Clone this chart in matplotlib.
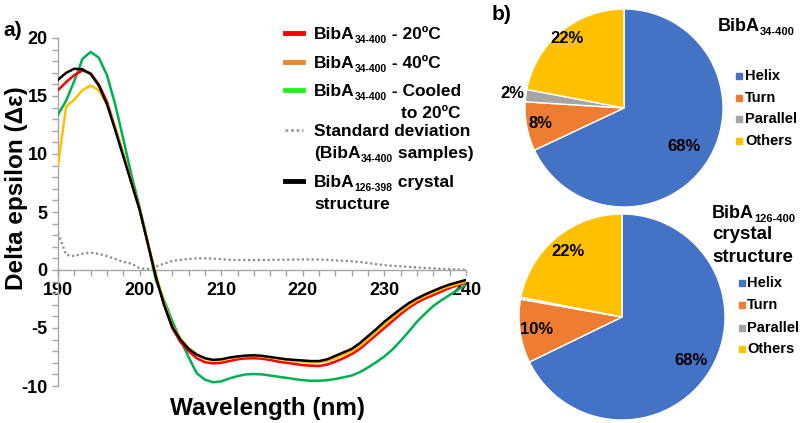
import matplotlib
matplotlib.use("Agg")
import matplotlib.pyplot as plt
import numpy as np
from matplotlib.lines import Line2D

plt.rcParams['font.family'] = ['Liberation Sans', 'DejaVu Sans']
plt.rcParams['font.weight'] = 'bold'
plt.rcParams['axes.unicode_minus'] = False

# ---------------- data ----------------
wavelength = list(range(190, 241))

cd_20C = [15.5, 16.2, 16.8, 17.2, 16.95, 16.0, 14.5, 12.3, 10.0, 7.6,
          5.2, 2.3, -0.6, -3.0, -5.0, -6.2, -7.0, -7.6, -7.95, -8.05,
          -8.0, -7.85, -7.7, -7.62, -7.6, -7.65, -7.75, -7.9, -8.0, -8.1,
          -8.2, -8.25, -8.28, -8.15, -7.9, -7.6, -7.25, -6.8, -6.2, -5.6,
          -5.0, -4.4, -3.8, -3.25, -2.8, -2.45, -2.16, -1.85, -1.55, -1.3, -1.09]

cd_40C = [9.0, 14.1, 14.7, 15.5, 15.9, 15.5, 14.3, 12.3, 10.0, 7.6,
          5.2, 2.4, -0.4, -2.8, -4.8, -5.9, -6.7, -7.25, -7.65, -7.8,
          -7.8, -7.6, -7.5, -7.42, -7.4, -7.45, -7.55, -7.65, -7.75, -7.85,
          -7.9, -7.95, -7.95, -7.85, -7.6, -7.3, -7.0, -6.55, -5.95, -5.35,
          -4.7, -4.1, -3.55, -3.05, -2.6, -2.25, -1.95, -1.65, -1.4, -1.2, -1.0]

cd_cooled = [13.4, 14.6, 16.3, 18.2, 18.8, 18.3, 16.8, 14.3, 11.3, 8.2,
             5.4, 2.4, -0.9, -2.6, -4.4, -6.0, -7.5, -8.9, -9.45, -9.68,
             -9.6, -9.35, -9.15, -9.0, -8.97, -9.0, -9.1, -9.2, -9.3, -9.4,
             -9.5, -9.55, -9.55, -9.5, -9.4, -9.25, -9.1, -8.8, -8.4, -7.95,
             -7.45, -6.85, -6.1, -5.3, -4.45, -3.75, -3.1, -2.6, -2.16, -1.7, -1.29]

cd_std = [3.2, 1.3, 1.2, 1.4, 1.5, 1.4, 1.2, 0.95, 0.7, 0.55,
          0.15, 0.08, 0.3, 0.55, 0.78, 0.88, 0.95, 1.0, 1.0, 0.98,
          0.93, 0.88, 0.86, 0.85, 0.85, 0.86, 0.87, 0.88, 0.89, 0.9,
          0.91, 0.91, 0.9, 0.87, 0.83, 0.79, 0.75, 0.7, 0.6, 0.5,
          0.42, 0.36, 0.32, 0.27, 0.22, 0.17, 0.14, 0.1, 0.07, 0.04, 0.02]

cd_crystal = [16.4, 17.0, 17.35, 17.3, 16.9, 15.9, 14.3, 12.1, 9.8, 7.5,
              5.2, 2.3, -0.6, -3.0, -4.9, -6.0, -6.8, -7.3, -7.6, -7.75,
              -7.7, -7.55, -7.45, -7.38, -7.35, -7.4, -7.5, -7.6, -7.7, -7.75,
              -7.8, -7.85, -7.85, -7.7, -7.4, -7.1, -6.8, -6.3, -5.7, -5.1,
              -4.45, -3.9, -3.35, -2.85, -2.45, -2.1, -1.8, -1.5, -1.25, -1.05, -0.86]

pie_categories = ['Helix', 'Turn', 'Parallel', 'Others']
pie_biba34 = [68, 8, 2, 22]
pie_biba126 = [68, 10, 0.3, 22]
pie_colors = ['#4472C4', '#ED7D31', '#A5A5A5', '#FFC000']

# ---------------- figure ----------------
W, H = 800, 423
fig = plt.figure(figsize=(8, 4.23), dpi=100)
renderer = fig.canvas.get_renderer()

def px_rect(x0, y0, x1, y1):
    return [x0 / W, 1 - y1 / H, (x1 - x0) / W, (y1 - y0) / H]

def ftext(x, y, s, **kw):
    return fig.text(x / W, 1 - y / H, s, **kw)

def rich(x, y_base, parts):
    """parts: list of (text, fontsize, baseline shift in px downward)."""
    cur = x
    for s, size, dy in parts:
        t = ftext(cur, y_base + dy, s, fontsize=size, fontweight='bold',
                  ha='left', va='baseline')
        bb = t.get_window_extent(renderer)
        cur = bb.x1
    return cur

# ----- panel a -----
ax = fig.add_axes(px_rect(58, 38, 466, 386))
ax.plot(wavelength, cd_std, color='#8C8C8C', lw=1.6, ls=(0, (1, 1.2)), zorder=2)
ax.plot(wavelength, cd_cooled, color='#00B050', lw=1.8, zorder=3)
ax.plot(wavelength, cd_20C, color='#FF0000', lw=1.8, zorder=4)
ax.plot(wavelength, cd_40C, color='#FFC000', lw=1.8, zorder=5)
ax.plot(wavelength, cd_crystal, color='#000000', lw=1.8, zorder=6)

ax.set_xlim(190, 240)
ax.set_ylim(-10, 20)
for s in ['top', 'right']:
    ax.spines[s].set_visible(False)
ax.spines['bottom'].set_position(('data', 0))
for s in ['left', 'bottom']:
    ax.spines[s].set_color('#A6A6A6')
    ax.spines[s].set_linewidth(1.0)
ax.set_xticks(range(190, 241, 10))
ax.set_xticks(range(190, 241, 2), minor=True)
ax.set_yticks(range(-10, 21, 5))
ax.set_yticks(range(-10, 21, 1), minor=True)
ax.tick_params(axis='both', which='both', direction='out', color='#A6A6A6',
               length=4.5, width=1.0)
ax.tick_params(axis='both', which='major', labelsize=13, pad=3)
ax.tick_params(axis='x', which='major', pad=4)
for lab in ax.get_xticklabels() + ax.get_yticklabels():
    lab.set_fontweight('bold')
ax.patch.set_alpha(0)

ftext(268, 408, 'Wavelength (nm)', fontsize=17.5, fontweight='bold', ha='center', va='center')
ftext(17, 188, 'Delta epsilon (Δε)', fontsize=17.5, fontweight='bold', ha='center', va='center',
      rotation=90)
ftext(3, 30, 'a)', fontsize=15, fontweight='bold', ha='left', va='center')

# legend of panel a (manual)
LS, SS, SD = 12.5, 7.5, 4
legend_rows = [
    ('#FF0000', '-', 33, [('BibA', LS, 0), ('34-400', SS, SD), (' - 20ºC', LS, 0)], None),
    ('#E8892B', '-', 62, [('BibA', LS, 0), ('34-400', SS, SD), (' - 40ºC', LS, 0)], None),
    ('#22EE22', '-', 90, [('BibA', LS, 0), ('34-400', SS, SD), (' - Cooled', LS, 0)],
     (401, [('to 20ºC', LS, 0)])),
    ('#A0A0A0', ':', 130, [('Standard deviation', LS, 0)],
     (314, [('(BibA', LS, 0), ('34-400', SS, SD), (' samples)', LS, 0)])),
    ('#000000', '-', 181, [('BibA', LS, 0), ('126-398', SS, SD), (' crystal', LS, 0)],
     (314, [('structure', LS, 0)])),
]
for color, ls, y, parts1, second in legend_rows:
    yy = 1 - y / H
    if ls == '-':
        fig.add_artist(Line2D([285 / W, 303 / W], [yy, yy], color=color, lw=3.5,
                              transform=fig.transFigure))
    else:
        fig.add_artist(Line2D([285 / W, 303 / W], [yy, yy], color=color, lw=2,
                              ls=(0, (1, 1)), transform=fig.transFigure))
    rich(314, y + 6, parts1)
    if second is not None:
        x2, parts2 = second
        rich(x2, y + 6 + 22, parts2)

# ----- panel b -----
ftext(492, 15, 'b)', fontsize=15, fontweight='bold', ha='left', va='center')

def draw_pie(cx, cy, r, values, label_r, show):
    pax = fig.add_axes(px_rect(cx - r, cy - r, cx + r, cy + r))
    wedges, _ = pax.pie(values, colors=pie_colors, startangle=90, counterclock=False,
                        radius=1.0, wedgeprops=dict(edgecolor='white', linewidth=1.0))
    pax.set_xlim(-1, 1)
    pax.set_ylim(-1, 1)
    pax.set_aspect('equal')
    pax.axis('off')
    for w, v, lr, sh in zip(wedges, values, label_r, show):
        if not sh:
            continue
        ang = np.deg2rad((w.theta1 + w.theta2) / 2)
        pax.text(lr * np.cos(ang), lr * np.sin(ang), f'{v:g}%', ha='center', va='center',
                 fontsize=12, fontweight='bold', clip_on=False)
    return pax

draw_pie(624, 108, 99, pie_biba34, [0.72, 0.86, 1.14, 0.91], [True, True, True, True])
draw_pie(622, 317, 103, pie_biba126, [0.79, 0.84, 1.1, 0.82], [True, True, False, True])

rich(718, 31, [('BibA', 13, 0), ('34-400', 8, 4)])
rich(712, 218, [('BibA', 13, 0), ('126-400', 8, 4)])
ftext(712, 234, 'crystal', fontsize=13.5, fontweight='bold', ha='left', va='center')
ftext(712, 257, 'structure', fontsize=13.5, fontweight='bold', ha='left', va='center')

def pie_legend(xm, xt, ys):
    for cat, col, y in zip(pie_categories, pie_colors, ys):
        fig.add_artist(Line2D([xm / W], [1 - y / H], marker='s', markersize=4.5,
                              color=col, lw=0, transform=fig.transFigure))
        ftext(xt, y, cat, fontsize=10.5, fontweight='bold', ha='left', va='center')

pie_legend(739, 745, [76, 98, 119, 141])
pie_legend(742, 747, [283, 305, 328, 349])

fig.savefig('out.png', dpi=100)
